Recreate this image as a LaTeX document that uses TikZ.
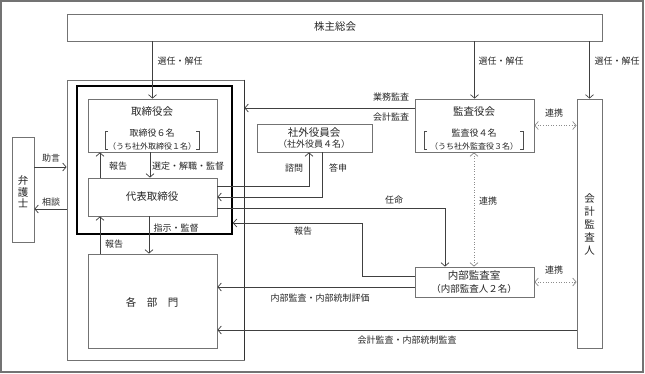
\documentclass[tikz,border=0pt]{standalone}
\usepackage{fontspec}
\setmainfont{Noto Sans CJK JP}
\usetikzlibrary{arrows.meta}

\begin{document}
\begin{tikzpicture}[x=1pt,y=-1pt,
  box/.style={draw=black!55, line width=0.8pt, fill=white, inner sep=0pt},
  link/.style={draw=black!75, line width=0.7pt, -{Straight Barb[length=3.5pt,width=8pt]}},
  tie/.style={draw=black!45, line width=0.6pt, dotted, {Straight Barb[length=3.5pt,width=8pt,line width=0.7pt]}-{Straight Barb[length=3.5pt,width=8pt,line width=0.7pt]}},
  ttl/.style={font=\fontsize{10.5}{12}\selectfont, inner sep=0pt, text=black!85},
  lbl/.style={font=\fontsize{9}{10}\selectfont, inner sep=0pt, text=black!85},
  sml/.style={font=\fontsize{8}{9}\selectfont, inner sep=0pt, text=black!85}]
\useasboundingbox (0,0) rectangle (645,374);
\draw[black!55, line width=1.5pt] (1,1) rectangle (643,372);
\node[box, minimum width=535pt, minimum height=27pt] (meeting) at (334.5,27.5) {};
\node[ttl] (meetingt) at (335,27) {株主総会};
\node[box, minimum width=177pt, minimum height=280pt] (corp) at (155.5,220) {};
\draw[black!80, line width=1pt] (corp.north east) -- (corp.south east);
\node[draw=black, line width=1.6pt, minimum width=155pt, minimum height=148pt, inner sep=0pt] (board) at (154.5,160) {};
\node[box, minimum width=129pt, minimum height=53pt] (bod) at (152.5,125.5) {};
\node[ttl] (bodt) at (152,112) {取締役会};
\node[lbl] (bodn) at (152,133) {取締役６名};
\node[sml] (bodo) at (152,146) {（うち社外取締役１名）};
\draw[black!70, line width=0.6pt] (108,131) -- (105,131) -- (105,149) -- (108,149);
\draw[black!70, line width=0.6pt] (196,131) -- (199,131) -- (199,149) -- (196,149);
\node[box, minimum width=129pt, minimum height=38pt] (ceo) at (152.5,197) {};
\node[ttl] (ceot) at (152,197) {代表取締役};
\node[box, minimum width=129pt, minimum height=94pt] (dept) at (152.5,301) {};
\node[ttl] (deptt) at (152,302) {各　部　門};
\node[box, minimum width=22pt, minimum height=105pt] (lawyer) at (23,189.5) {};
\node[ttl, align=center, font=\fontsize{10.5}{11.5}\selectfont] (lawyert) at (23,192) {弁\\護\\士};
\node[box, minimum width=115pt, minimum height=28pt] (outside) at (314.5,138) {};
\node[ttl] (outsidet) at (314,133) {社外役員会};
\node[lbl] (outsiden) at (314,144.5) {（社外役員４名）};
\node[box, minimum width=119pt, minimum height=53pt] (kab) at (474.5,125.5) {};
\node[ttl] (kabt) at (474,112) {監査役会};
\node[lbl] (kabn) at (474,133) {監査役４名};
\node[sml] (kabo) at (474,146) {（うち社外監査役３名）};
\draw[black!70, line width=0.6pt] (427,131) -- (424,131) -- (424,149) -- (427,149);
\draw[black!70, line width=0.6pt] (520,131) -- (523,131) -- (523,149) -- (520,149);
\node[box, minimum width=119pt, minimum height=30pt] (ia) at (474.5,282) {};
\node[ttl] (iat) at (474,276) {内部監査室};
\node[ttl, font=\fontsize{9.5}{11}\selectfont] (ian) at (474,289) {（内部監査人２名）};
\node[box, minimum width=25pt, minimum height=249pt] (auditor) at (589.5,223.5) {};
\node[ttl, align=center, font=\fontsize{10.5}{13}\selectfont] (auditort) at (589.5,224) {会\\計\\監\\査\\人};
\draw[link] (bod.north |- meeting.south) -- (bod.north);
\draw[link] (kab.north |- meeting.south) -- (kab.north);
\draw[link] (auditor.north |- meeting.south) -- (auditor.north);
\node[lbl] (sel1) at (180,61) {選任・解任};
\node[lbl] (sel2) at (501,61) {選任・解任};
\node[lbl] (sel3) at (617,61) {選任・解任};
\draw[link] (lawyer.east |- 0,167) -- (corp.west |- 0,167);
\draw[link] (corp.west |- 0,209) -- (lawyer.east |- 0,209);
\node[lbl] (advice) at (51,158) {助言};
\node[lbl] (consult) at (51,202) {相談};
\draw[link] (ceo.north -| 100,0) -- (bod.south -| 100,0);
\draw[link] (bod.south -| 150,0) -- (ceo.north -| 150,0);
\node[lbl] (rep1) at (118,166) {報告};
\node[lbl] (elect) at (188,166) {選定・解職・監督};
\draw[link] (ceo.south -| 149,0) -- (dept.north -| 149,0);
\draw[link] (dept.north -| 100,0) -- (ceo.south -| 100,0);
\node[lbl] (order) at (176,228) {指示・監督};
\node[lbl] (rep2) at (114,244) {報告};
\draw[link] (ceo.east |- 0,186) -| (outside.south -| 309,0);
\draw[link] (outside.south -| 322,0) |- (ceo.east |- 0,197);
\node[lbl] (inquiry) at (294,168) {諮問};
\node[lbl] (answer) at (338,168) {答申};
\draw[link] (kab.west |- 0,108) -- (corp.east |- 0,108);
\node[lbl] (opaudit) at (391,97) {業務監査};
\node[lbl] (acaudit) at (391,117) {会計監査};
\draw[link] (ceo.east |- 0,208) -| (ia.north -| 445,0);
\node[lbl] (appoint) at (394,200) {任命};
\draw[link] (ia.west |- 0,276) -| (362,223) -- (board.east |- 0,223);
\node[lbl] (rep3) at (303,231) {報告};
\draw[link] (ia.west |- 0,287) -- (dept.east |- 0,287);
\node[lbl] (iaeval) at (320,298) {内部監査・内部統制評価};
\draw[link] (auditor.west |- 0,330) -- (dept.east |- 0,330);
\node[lbl] (icaudit) at (407,340) {会計監査・内部統制監査};
\draw[tie] (kab.east) -- (auditor.west |- kab.east);
\draw[tie] (kab.south -| 474,0) -- (ia.north -| 474,0);
\draw[tie] (ia.east) -- (auditor.west |- ia.east);
\node[lbl] (coop1) at (554,113) {連携};
\node[lbl] (coop2) at (488,201) {連携};
\node[lbl] (coop3) at (554,270) {連携};
\end{tikzpicture}
\end{document}
